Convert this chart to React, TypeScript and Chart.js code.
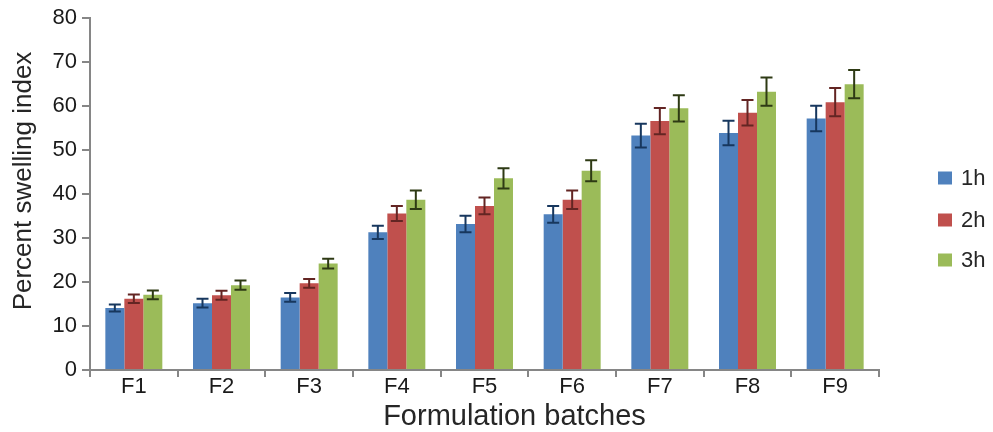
import React, { useEffect, useRef } from "react";
import { Chart, registerables } from "chart.js";

Chart.register(...registerables);

const categories = ["F1", "F2", "F3", "F4", "F5", "F6", "F7", "F8", "F9"];
const seriesLabels = ["1h", "2h", "3h"];
const values1h = [14.1, 15.2, 16.5, 31.3, 33.2, 35.4, 53.3, 53.9, 57.2];
const values2h = [16.2, 17.0, 19.7, 35.6, 37.3, 38.7, 56.6, 58.5, 60.9];
const values3h = [17.1, 19.3, 24.2, 38.7, 43.6, 45.3, 59.5, 63.3, 65.0];
const errors1h = [0.8, 1.0, 1.0, 1.5, 1.9, 1.9, 2.7, 2.8, 2.9];
const errors2h = [0.95, 1.05, 1.0, 1.7, 1.9, 2.1, 3.0, 2.9, 3.2];
const errors3h = [1.0, 1.05, 1.1, 2.1, 2.3, 2.4, 3.0, 3.2, 3.2];
const yTicks = [0, 10, 20, 30, 40, 50, 60, 70, 80];
const xTitle = "Formulation batches";
const yTitle = "Percent swelling index";

const barColors = ["#4F81BD", "#C0504D", "#9BBB59"];
const errColors = ["#17375E", "#632523", "#2E3A14"];
const FONT = "'Liberation Sans', Arial, sans-serif";

const errorBarPlugin = {
  id: "errorBars",
  afterDatasetsDraw(chart: any) {
    const ctx = chart.ctx;
    const yScale = chart.scales.y;
    const errs = [errors1h, errors2h, errors3h];
    chart.data.datasets.forEach((ds: any, di: number) => {
      const meta = chart.getDatasetMeta(di);
      meta.data.forEach((bar: any, i: number) => {
        const v = ds.data[i];
        const e = errs[di][i];
        const yTop = yScale.getPixelForValue(v + e);
        const yBot = yScale.getPixelForValue(v - e);
        const x = bar.x;
        const half = 6;
        ctx.save();
        ctx.strokeStyle = errColors[di];
        ctx.lineWidth = 2;
        ctx.beginPath();
        ctx.moveTo(x, yTop);
        ctx.lineTo(x, yBot);
        ctx.moveTo(x - half, yTop);
        ctx.lineTo(x + half, yTop);
        ctx.moveTo(x - half, yBot);
        ctx.lineTo(x + half, yBot);
        ctx.stroke();
        ctx.restore();
      });
    });
  },
};

const annotationsPlugin = {
  id: "titlesAndLegend",
  afterDraw(chart: any) {
    const ctx = chart.ctx;
    const area = chart.chartArea;
    ctx.save();
    ctx.fillStyle = "#262626";
    // x title
    ctx.font = `29px ${FONT}`;
    ctx.textAlign = "center";
    ctx.textBaseline = "alphabetic";
    ctx.fillText(xTitle, (area.left + area.right) / 2 + 30, 425);
    // y title
    ctx.save();
    ctx.translate(31, 181);
    ctx.rotate(-Math.PI / 2);
    ctx.font = `26px ${FONT}`;
    ctx.textAlign = "center";
    ctx.fillText(yTitle, 0, 0);
    ctx.restore();
    // legend
    const legendX = 938;
    const legendYs = [178, 220, 260];
    seriesLabels.forEach((lab, i) => {
      ctx.fillStyle = barColors[i];
      ctx.fillRect(legendX, legendYs[i] - 6.5, 14, 13);
      ctx.fillStyle = "#262626";
      ctx.font = `22px ${FONT}`;
      ctx.textAlign = "left";
      ctx.textBaseline = "middle";
      ctx.fillText(lab, legendX + 23, legendYs[i] + 1);
    });
    ctx.restore();
  },
};

export default function App() {
  const ref = useRef<HTMLCanvasElement>(null);
  useEffect(() => {
    if (!ref.current) return;
    const allValues = [values1h, values2h, values3h];
    const chart = new Chart(ref.current, {
      type: "bar",
      data: {
        labels: categories,
        datasets: seriesLabels.map((lab, i) => ({
          label: lab,
          data: allValues[i],
          backgroundColor: barColors[i],
          borderWidth: 0,
          categoryPercentage: 0.65,
          barPercentage: 1.0,
        })),
      },
      options: {
        animation: false,
        responsive: false,
        layout: { padding: { top: 16, right: 114, bottom: 0, left: 0 } },
        plugins: {
          legend: { display: false },
          tooltip: { enabled: false },
        },
        scales: {
          x: {
            offset: true,
            grid: {
              offset: true,
              drawOnChartArea: false,
              drawTicks: true,
              tickLength: 7,
              color: "#868686",
              lineWidth: 2,
            },
            border: { display: true, color: "#868686", width: 2 },
            ticks: {
              color: "#1a1a1a",
              font: { family: FONT, size: 22 },
              padding: -3,
            },
            afterFit(scale: any) {
              scale.height = 62;
            },
          },
          y: {
            min: 0,
            max: 80,
            afterBuildTicks(scale: any) {
              scale.ticks = yTicks.map((v) => ({ value: v }));
            },
            grid: {
              drawOnChartArea: false,
              drawTicks: true,
              tickLength: 8,
              color: "#868686",
              lineWidth: 2,
            },
            border: { display: true, color: "#868686", width: 2 },
            ticks: {
              color: "#1a1a1a",
              font: { family: FONT, size: 22 },
              padding: 5,
            },
            afterFit(scale: any) {
              scale.width = 90;
            },
          },
        },
      },
      plugins: [errorBarPlugin, annotationsPlugin],
    });
    return () => chart.destroy();
  }, []);
  return (
    <div style={{ position: "absolute", left: 0, top: 0, width: 993, height: 432, background: "#fff" }}>
      <canvas ref={ref} width={993} height={432} style={{ display: "block" }} />
    </div>
  );
}
